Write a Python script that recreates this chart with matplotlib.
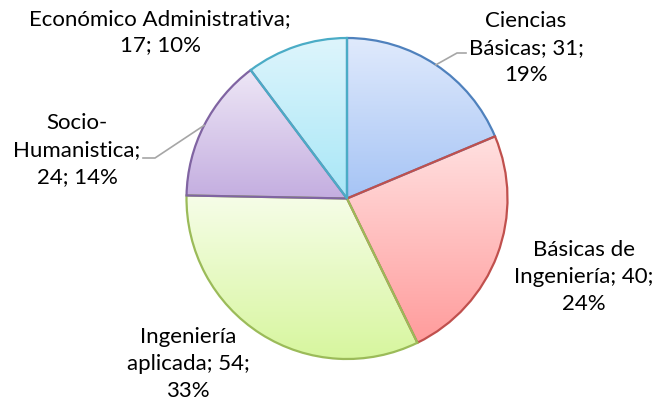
import numpy as np
import matplotlib.pyplot as plt
from matplotlib.colors import LinearSegmentedColormap

W, H = 654, 407

categories = ["Ciencias Básicas", "Básicas de Ingeniería", "Ingeniería aplicada",
              "Socio-Humanistica", "Económico Administrativa"]
values = [31, 40, 54, 24, 17]
label_texts = ["Ciencias\nBásicas; 31;\n19%", "Básicas de\nIngeniería; 40;\n24%",
               "Ingeniería\naplicada; 54;\n33%", "Socio-\nHumanistica;\n24; 14%",
               "Económico Administrativa;\n17; 10%"]

edge_colors = ["#4f81bd", "#c0504d", "#9bbb59", "#8064a2", "#4bacc6"]
top_colors = ["#e0eafc", "#ffe0e0", "#f6fde8", "#eee7f6", "#def5fc"]
bottom_colors = ["#a6c4f5", "#ff9c9c", "#d7f69e", "#c4aee0", "#a8e7f7"]

# label block centres in pixel coords (y from top)
label_pos = [(526, 48), (584, 277), (188, 364), (77, 150), (160, 32)]

plt.rcParams['font.family'] = ['Lato', 'DejaVu Sans']

fig = plt.figure(figsize=(W / 100, H / 100), dpi=100)
ax = fig.add_axes([0, 0, 1, 1])

cx, cy, r = 347, H - 198.5, 160.5
wedges, _ = ax.pie(values, startangle=90, counterclock=False, center=(cx, cy), radius=r,
                   wedgeprops=dict(facecolor='none', linewidth=1.6), frame=True)

for w, ec, c0, c1 in zip(wedges, edge_colors, top_colors, bottom_colors):
    w.set_edgecolor(ec)
    w.set_zorder(3)
    ext = w.get_path().get_extents()
    cmap = LinearSegmentedColormap.from_list('g', [c0, c1])
    grad = np.linspace(0, 1, 256).reshape(-1, 1)
    im = ax.imshow(grad, cmap=cmap, aspect='auto', zorder=2,
                   extent=[ext.x0, ext.x1, ext.y0, ext.y1], origin='upper')
    im.set_clip_path(w)

ax.set_xlim(0, W)
ax.set_ylim(0, H)
ax.axis('off')

for txt, (x, y) in zip(label_texts, label_pos):
    ax.text(x, H - y, txt, ha='center', va='center', fontsize=16, color='#000000',
            linespacing=1.42)

# leader lines
total = sum(values)
cum = np.cumsum([0] + values)
def edge_point(i):
    frac = (cum[i] + cum[i + 1]) / 2 / total
    ang = np.deg2rad(90 - 360 * frac)
    return cx + r * np.cos(ang), cy + r * np.sin(ang)

x0, y0 = edge_point(0)
ax.plot([x0, 457, 466], [y0, H - 53, H - 53], color='#a6a6a6', lw=1.2, zorder=4)
x0, y0 = edge_point(3)
ax.plot([x0, 155, 143], [y0, H - 158, H - 158], color='#a6a6a6', lw=1.2, zorder=4)

fig.savefig('out.png', dpi=100)
